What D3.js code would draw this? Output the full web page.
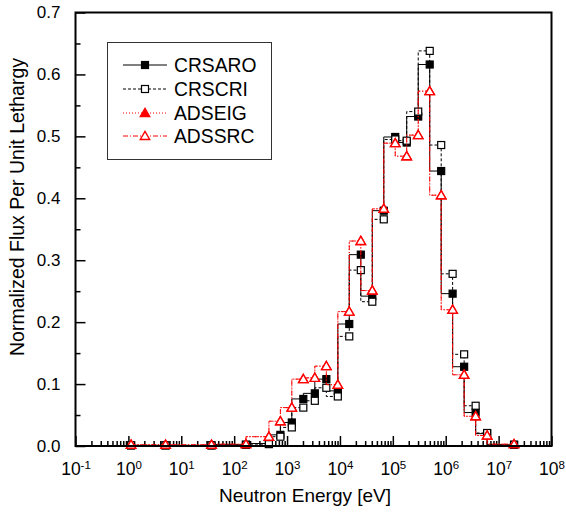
<!DOCTYPE html>
<html>
<head>
<meta charset="utf-8">
<script src="https://cdn.jsdelivr.net/npm/d3@7"></script>
<style>
  html, body { margin: 0; padding: 0; background: #fff; }
  svg { display: block; font-family: "Liberation Sans", Arial, sans-serif; }
</style>
</head>
<body>
<svg id="chart" width="566" height="515"></svg>
<script>
// Group upper energy boundaries (eV)
const energies = [1.125, 5.04, 37.3, 167, 454, 748, 1230, 2030, 3350, 5530, 9120, 15000, 24800, 40900, 67400, 111000, 183000, 302000, 498000, 821000, 1350000, 2230000, 3680000, 6070000, 19600000];
const crsaro = [0.001, 0.001, 0.001, 0.002, 0.004, 0.018, 0.038, 0.076, 0.085, 0.108, 0.089, 0.197, 0.309, 0.242, 0.380, 0.499, 0.490, 0.532, 0.616, 0.444, 0.246, 0.128, 0.054, 0.020, 0.002];
const crscri = [0.001, 0.001, 0.001, 0.002, 0.003, 0.015, 0.030, 0.062, 0.073, 0.094, 0.080, 0.177, 0.284, 0.233, 0.366, 0.495, 0.493, 0.540, 0.638, 0.486, 0.278, 0.148, 0.065, 0.021, 0.002];
const adseig = [0.002, 0.002, 0.002, 0.003, 0.015, 0.040, 0.062, 0.108, 0.110, 0.129, 0.099, 0.217, 0.331, 0.251, 0.383, 0.489, 0.468, 0.502, 0.573, 0.405, 0.220, 0.115, 0.048, 0.017, 0.003];
const adssrc = [0.002, 0.002, 0.002, 0.003, 0.015, 0.040, 0.062, 0.108, 0.110, 0.129, 0.099, 0.217, 0.331, 0.251, 0.383, 0.489, 0.468, 0.502, 0.573, 0.405, 0.220, 0.115, 0.048, 0.017, 0.003];
const seriesNames = ["CRSARO", "CRSCRI", "ADSEIG", "ADSSRC"];
const xTickExps = [-1, 0, 1, 2, 3, 4, 5, 6, 7, 8];
const yTicks = [0.0, 0.1, 0.2, 0.3, 0.4, 0.5, 0.6, 0.7];
const xTitle = "Neutron Energy [eV]";
const yTitle = "Normalized Flux Per Unit Lethargy";

const styles = [
  { name: seriesNames[0], values: crsaro, color: "#000", dash: null, marker: "square", fill: "#000" },
  { name: seriesNames[1], values: crscri, color: "#000", dash: "3,2", marker: "square", fill: "#fff" },
  { name: seriesNames[2], values: adseig, color: "#ff0000", dash: "1,2", marker: "triangle", fill: "#ff0000" },
  { name: seriesNames[3], values: adssrc, color: "#ff0000", dash: "5,2,1,2", marker: "triangle", fill: "#fff" }
];

const svg = d3.select("#chart");
const L = 75.5, R = 551.5, T = 12.5, B = 446;
const x = d3.scaleLog().domain([0.1, 1e8]).range([L, R]);
const y = d3.scaleLinear().domain([0, 0.7]).range([B, T]);

// minor ticks
const xMinor = [];
for (let e = -1; e < 8; e++) for (let k = 2; k <= 9; k++) xMinor.push(k * Math.pow(10, e));
const yMinor = d3.range(0.05, 0.7, 0.1);

// X axis (ticks inward)
const gx = svg.append("g").attr("transform", `translate(0,${B})`);
gx.call(d3.axisBottom(x).tickValues(xMinor).tickSize(-5).tickSizeOuter(0).tickFormat(""))
  .call(g => g.select(".domain").remove());
const gxMaj = svg.append("g").attr("transform", `translate(0,${B})`);
gxMaj.call(d3.axisBottom(x).tickValues(xTickExps.map(e => Math.pow(10, e))).tickSize(-10).tickSizeOuter(0).tickPadding(17))
  .call(g => g.select(".domain").remove());
gxMaj.selectAll(".tick text").each(function(d, i) {
  const t = d3.select(this);
  t.text("").attr("font-size", 17.5).attr("fill", "#000").attr("dy", "0.71em").attr("text-anchor", "middle");
  t.append("tspan").text("10");
  t.append("tspan").attr("font-size", 11.5).attr("dy", "-0.55em").text(xTickExps[i] < 0 ? "-" + Math.abs(xTickExps[i]) : String(xTickExps[i]));
});

// Y axis
const gy = svg.append("g").attr("transform", `translate(${L},0)`);
gy.call(d3.axisLeft(y).tickValues(yMinor).tickSize(-5).tickSizeOuter(0).tickFormat(""))
  .call(g => g.select(".domain").remove());
const gyMaj = svg.append("g").attr("transform", `translate(${L},0)`);
gyMaj.call(d3.axisLeft(y).tickValues(yTicks).tickSize(-10).tickSizeOuter(0).tickPadding(15).tickFormat(d3.format(".1f")))
  .call(g => g.select(".domain").remove());
gyMaj.selectAll(".tick text").attr("font-size", 17).attr("fill", "#000");

svg.selectAll(".tick line").attr("stroke", "#000").attr("stroke-width", 1.5);

// Series
const line = d3.line().x((d, i) => x(energies[i])).y(d => y(d)).curve(d3.curveStepBefore);
const tri = d3.symbol().type(d3.symbolTriangle).size(38);

function drawMarker(g, s, cx, cy) {
  if (s.marker === "square") {
    g.append("rect").attr("x", cx - 3.5).attr("y", cy - 3.5).attr("width", 7).attr("height", 7)
      .attr("fill", s.fill).attr("stroke", s.color).attr("stroke-width", 1.2);
  } else {
    g.append("path").attr("d", tri).attr("transform", `translate(${cx},${cy + 0.8})`)
      .attr("fill", s.fill).attr("stroke", s.color).attr("stroke-width", 1.4);
  }
}

styles.forEach(s => {
  const g = svg.append("g");
  g.append("path").datum(s.values).attr("d", line).attr("fill", "none")
    .attr("stroke", s.color).attr("stroke-width", 1).attr("stroke-dasharray", s.dash);
  s.values.forEach((v, i) => drawMarker(g, s, x(energies[i]), y(v)));
});

// Frame
svg.append("rect").attr("x", L).attr("y", T).attr("width", R - L).attr("height", B - T)
  .attr("fill", "none").attr("stroke", "#000").attr("stroke-width", 2);

// Legend
const lg = svg.append("g");
lg.append("rect").attr("x", 107.5).attr("y", 42.5).attr("width", 164).attr("height", 117)
  .attr("fill", "#fff").attr("stroke", "#333").attr("stroke-width", 1);
const rowsY = [65, 89, 113, 136];
styles.forEach((s, i) => {
  const ry = rowsY[i];
  lg.append("line").attr("x1", 123).attr("x2", 167).attr("y1", ry).attr("y2", ry)
    .attr("stroke", s.color).attr("stroke-width", 1).attr("stroke-dasharray", s.dash);
  drawMarker(lg, s, 145, ry);
  lg.append("text").attr("x", 174).attr("y", ry + 7).attr("font-size", 19.3).attr("fill", "#000").text(s.name);
});

// Titles
svg.append("text").attr("x", 305).attr("y", 502).attr("text-anchor", "middle")
  .attr("font-size", 19).attr("fill", "#000").text(xTitle);
svg.append("text").attr("transform", "translate(24,207) rotate(-90)").attr("text-anchor", "middle")
  .attr("font-size", 19.5).attr("fill", "#000").text(yTitle);
</script>
</body>
</html>
